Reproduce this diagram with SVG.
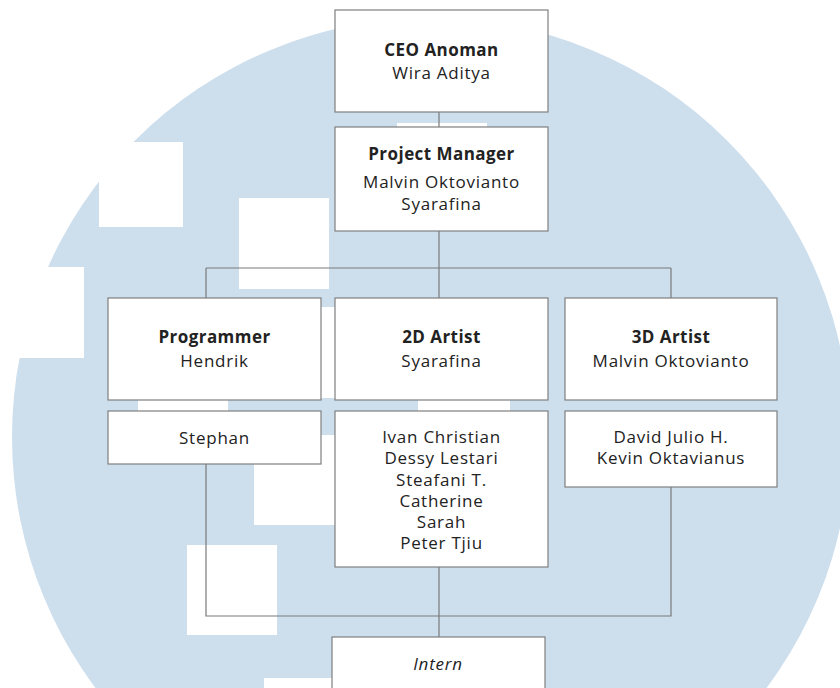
<svg xmlns="http://www.w3.org/2000/svg" width="840" height="688" viewBox="0 0 840 688">
<style>
.box{fill:#fff;stroke:#7f7f7f;stroke-width:1.2}
.ln{fill:none;stroke:#7a7a7a;stroke-width:1.2}
.wh{fill:#fff}
text{font-family:"Open Sans","DejaVu Sans",sans-serif;font-size:17px;letter-spacing:0.75px;fill:#222;text-anchor:middle}
.b{font-weight:bold;letter-spacing:0.45px}
.i{font-style:italic}
</style>
<rect width="840" height="688" fill="#fff"/>
<g id="background">
<circle cx="431" cy="437" r="419" fill="#cddeed"/>
<rect class="wh" x="99" y="142" width="84" height="85"/>
<rect class="wh" x="239" y="198" width="90" height="91"/>
<rect class="wh" x="0" y="267" width="84" height="91"/>
<rect class="wh" x="397" y="123" width="90" height="20"/>
<rect class="wh" x="245" y="307" width="90" height="91"/>
<rect class="wh" x="138" y="380" width="90" height="31"/>
<rect class="wh" x="418" y="380" width="92" height="31"/>
<rect class="wh" x="254" y="435" width="81" height="90"/>
<rect class="wh" x="187" y="545" width="90" height="90"/>
<rect class="wh" x="264" y="678" width="90" height="10"/>
</g>
<g id="connectors">
<path class="ln" d="M439 112V127M439 231V298M206 268H671M206 268V298M671 268V298"/>
<path class="ln" d="M206 464V616H671V487M439 567V637"/>
</g>
<g id="ceo">
<rect class="box" x="335" y="10" width="213" height="102"/>
<text class="b" x="441.5" y="56">CEO Anoman</text>
<text x="441.5" y="79">Wira Aditya</text>
</g>
<g id="pm">
<rect class="box" x="335" y="127" width="213" height="104"/>
<text class="b" x="441.5" y="160">Project Manager</text>
<text x="441.5" y="188">Malvin Oktovianto</text>
<text x="441.5" y="210">Syarafina</text>
</g>
<g id="programmer">
<rect class="box" x="108" y="298" width="213" height="102"/>
<text class="b" x="214.5" y="343">Programmer</text>
<text x="214.5" y="367">Hendrik</text>
</g>
<g id="artist2d">
<rect class="box" x="335" y="298" width="213" height="102"/>
<text class="b" x="441.5" y="343">2D Artist</text>
<text x="441.5" y="367">Syarafina</text>
</g>
<g id="artist3d">
<rect class="box" x="565" y="298" width="212" height="102"/>
<text class="b" x="671" y="343">3D Artist</text>
<text x="671" y="367">Malvin Oktovianto</text>
</g>
<g id="stephan">
<rect class="box" x="108" y="411" width="213" height="53"/>
<text x="214.5" y="444">Stephan</text>
</g>
<g id="team2d">
<rect class="box" x="335" y="411" width="213" height="156"/>
<text x="441.5" y="443">Ivan Christian</text>
<text x="441.5" y="464">Dessy Lestari</text>
<text x="441.5" y="486">Steafani T.</text>
<text x="441.5" y="507">Catherine</text>
<text x="441.5" y="528">Sarah</text>
<text x="441.5" y="549">Peter Tjiu</text>
</g>
<g id="team3d">
<rect class="box" x="565" y="411" width="212" height="76"/>
<text x="671" y="443">David Julio H.</text>
<text x="671" y="464">Kevin Oktavianus</text>
</g>
<g id="intern">
<rect class="box" x="332" y="637" width="213" height="60"/>
<text class="i" x="438" y="670">Intern</text>
</g>
</svg>
